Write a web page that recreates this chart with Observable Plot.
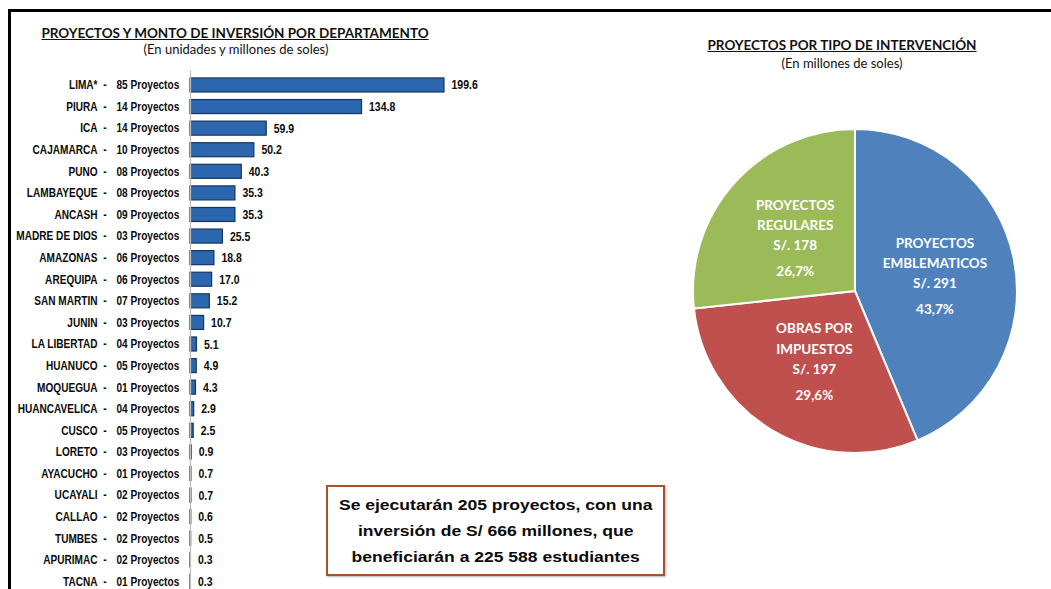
<!DOCTYPE html>
<html><head><meta charset="utf-8">
<script src="https://cdn.jsdelivr.net/npm/d3@7"></script>
<script src="https://cdn.jsdelivr.net/npm/@observablehq/plot@0.6"></script>
<style>
html,body{margin:0;padding:0;background:#fff;}
#page{position:relative;width:1051px;height:589px;overflow:hidden;background:#fff;}
#frame{position:absolute;left:8px;top:9px;width:1100px;height:700px;border-top:3px solid #000;border-left:3px solid #000;}
.t{position:absolute;font-family:Lato,"Open Sans",sans-serif;color:#111;white-space:nowrap;transform:translateX(-50%);text-align:center;}
.title{font-weight:700;font-size:13.5px;text-decoration:underline;}
.sub{font-size:13px;}
#bars{position:absolute;left:0;top:60px;line-height:0;}
#pie{position:absolute;left:685px;top:121px;line-height:0;}
#box{position:absolute;left:326px;top:485px;width:335px;height:87px;border:2px solid #A4532A;box-shadow:1px 1px 2px rgba(0,0,0,0.3);font-family:"Liberation Sans",Arial,sans-serif;font-weight:700;font-size:15.5px;line-height:26px;text-align:center;color:#0a0a0a;display:flex;align-items:center;justify-content:center;}
#box > div{transform:scaleX(1.13);white-space:nowrap;}
</style></head><body>
<div id="page">
<div id="frame"></div>
<div class="t title" style="left:235px;top:25px">PROYECTOS Y MONTO DE INVERSIÓN POR DEPARTAMENTO</div>
<div class="t sub" style="left:236px;top:41px">(En unidades y millones de soles)</div>
<div class="t title" style="left:842px;top:37px">PROYECTOS POR TIPO DE INTERVENCIÓN</div>
<div class="t sub" style="left:842px;top:55px">(En millones de soles)</div>
<div id="bars"></div>
<div id="pie"></div>
<div id="box"><div>Se ejecutarán 205 proyectos, con una<br>inversión de S/ 666 millones, que<br>beneficiarán a 225 588 estudiantes</div></div>
</div>
<script>
// ---- Data: departamentos ----
const departamentos = ["LIMA*","PIURA","ICA","CAJAMARCA","PUNO","LAMBAYEQUE","ANCASH","MADRE DE DIOS","AMAZONAS","AREQUIPA","SAN MARTIN","JUNIN","LA LIBERTAD","HUANUCO","MOQUEGUA","HUANCAVELICA","CUSCO","LORETO","AYACUCHO","UCAYALI","CALLAO","TUMBES","APURIMAC","TACNA"];
const proyectos = ["85","14","14","10","08","08","09","03","06","06","07","03","04","05","01","04","05","03","01","02","02","02","02","01"];
const montos = [199.6,134.8,59.9,50.2,40.3,35.3,35.3,25.5,18.8,17.0,15.2,10.7,5.1,4.9,4.3,2.9,2.5,0.9,0.7,0.7,0.6,0.5,0.3,0.3];

// ---- Data: tipo de intervención ----
const tipos = ["PROYECTOS\nEMBLEMATICOS","OBRAS POR\nIMPUESTOS","PROYECTOS\nREGULARES"];
const montosTipo = [291,197,178];
const coloresTipo = ["#4F81BD","#C0504D","#9BBB59"];

const sans = "'Liberation Sans',Arial,sans-serif";

const data = departamentos.map((d,i)=>({dep:d, proy:proyectos[i], monto:montos[i]}));

const bars = Plot.plot({
  width: 500, height: 536,
  marginLeft: 190, marginRight: 56, marginTop: 10.4, marginBottom: 0,
  x: {domain: [0, d3.max(montos)], axis: null},
  y: {domain: departamentos, padding: 0.35, round: false, axis: null},
  style: {background: "transparent", overflow: "visible"},
  marks: [
    Plot.barX(data, {x: "monto", y: "dep", fill: "#2B66AF", stroke: "#17365D", strokeWidth: 1.2}),
    Plot.ruleX([0], {stroke: "#BDBDBD", strokeWidth: 1.2}),
    Plot.text(data, {x: "monto", y: "dep", text: d => d3.format(".1f")(d.monto), dx: 7, textAnchor: "start",
      fontFamily: sans, fontWeight: "bold", fontSize: 12.5, fill: "#0a0a0a"}),
    Plot.text(data, {y: "dep", text: d => d.dep + "\u00a0\u00a0-", frameAnchor: "left", dx: -84, textAnchor: "end",
      fontFamily: sans, fontWeight: "bold", fontSize: 12, fill: "#0a0a0a"}),
    Plot.text(data, {y: "dep", text: d => d.proy + " Proyectos", frameAnchor: "left", dx: -74, textAnchor: "start",
      fontFamily: sans, fontWeight: "bold", fontSize: 12, fill: "#0a0a0a"})
  ]
});
// condensed look (Arial Narrow style): squeeze text horizontally around its anchor
d3.select(bars).selectAll("text").each(function() {
  const t = this.getAttribute("transform") || "";
  this.setAttribute("transform", t + " scale(0.84,1)");
});
document.getElementById("bars").append(bars);

// ---- Pie ----
const tiposData = tipos.map((t,i)=>({tipo:t, monto:montosTipo[i]}));
const total = d3.sum(montosTipo);
const pieArcs = d3.pie().sort(null).value(d => d.monto)(tiposData);
const unitArc = d3.arc().innerRadius(0).outerRadius(1);
const color = d3.scaleOrdinal(tipos, coloresTipo);
const pieData = pieArcs.map(a => {
  const [cx, cy] = unitArc.centroid(a);
  return {tipo: a.data.tipo, monto: a.data.monto, cx, cy,
    pct: d3.format(".1f")(a.data.monto / total * 100).replace(".", ",") + "%"};
});

function slices(index, scales) {
  const cx = scales.x(0), cy = scales.y(0), r = scales.x(1) - scales.x(0);
  const arc = d3.arc().innerRadius(0).outerRadius(r);
  const g = d3.create("svg:g").attr("transform", `translate(${cx},${cy})`);
  g.selectAll("path").data(pieArcs).join("path")
    .attr("d", arc)
    .attr("fill", d => color(d.data.tipo))
    .attr("stroke", "#fff").attr("stroke-width", 2).attr("stroke-linejoin", "round");
  return g.node();
}

const lbl = {fill: "#fff", fontSize: 13.5, fontWeight: "bold", fontFamily: "Lato,'Open Sans',sans-serif"};
const pie = Plot.plot({
  width: 340, height: 340, margin: 8,
  x: {domain: [-1, 1], axis: null},
  y: {domain: [1, -1], axis: null},
  style: {background: "transparent", overflow: "visible"},
  marks: [
    slices,
    Plot.text(pieData, {x: "cx", y: "cy", text: d => d.tipo + "\nS/. " + d.monto, dy: -14, lineHeight: 1.5, ...lbl}),
    Plot.text(pieData, {x: "cx", y: "cy", text: "pct", dy: 34, ...lbl})
  ]
});
document.getElementById("pie").append(pie);
</script>
</body></html>
